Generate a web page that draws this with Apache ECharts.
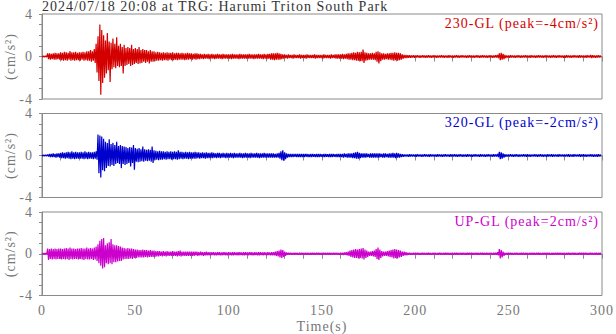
<!DOCTYPE html>
<html lang="en">
<head>
    <meta charset="UTF-8">
    <title>Seismogram TRG</title>
    <script src="https://cdn.jsdelivr.net/npm/echarts@6/dist/echarts.min.js"></script>
    <style>
        html, body { margin: 0; padding: 0; background: #fff; }
        #main { width: 616px; height: 334px; }
        /* the original plot sets its serif text slightly letter-spaced */
        #main svg text { letter-spacing: 1px; }
    </style>
</head>
<body>
<div id="main"></div>
<script>
    // envelope of each trace, one value per second (t = 0..299 s), cm/s^2
    const hi230 = [
        0.05,0.05,0.05,0.3,0.3,0.25,0.3,0.35,0.3,0.3,
        0.4,0.35,0.45,0.4,0.35,0.5,0.4,0.4,0.45,0.35,
        0.4,0.4,0.45,0.4,0.5,0.5,0.6,0.5,0.7,1.2,
        1.9,3.0,2.5,2.0,1.5,2.2,1.4,1.3,1.7,1.2,
        1.8,1.0,1.2,0.9,1.1,0.8,0.9,0.8,1.1,0.7,
        0.8,0.7,0.9,0.6,0.7,0.6,0.6,0.5,0.6,0.5,
        0.5,0.4,0.45,0.4,0.35,0.4,0.35,0.4,0.35,0.35,
        0.4,0.3,0.35,0.35,0.3,0.35,0.3,0.3,0.35,0.3,
        0.3,0.25,0.3,0.3,0.25,0.25,0.2,0.25,0.2,0.25,
        0.2,0.25,0.2,0.2,0.25,0.2,0.2,0.25,0.2,0.2,
        0.2,0.2,0.25,0.2,0.2,0.2,0.25,0.2,0.2,0.2,
        0.2,0.25,0.2,0.2,0.2,0.2,0.25,0.2,0.2,0.25,
        0.2,0.25,0.25,0.3,0.3,0.3,0.35,0.3,0.25,0.2,
        0.2,0.15,0.2,0.15,0.15,0.2,0.15,0.15,0.2,0.15,
        0.15,0.15,0.2,0.15,0.15,0.15,0.2,0.15,0.15,0.15,
        0.15,0.2,0.15,0.15,0.15,0.2,0.15,0.2,0.2,0.2,
        0.2,0.25,0.2,0.25,0.3,0.3,0.35,0.4,0.35,0.45,
        0.4,0.45,0.65,0.4,0.35,0.3,0.3,0.35,0.3,0.45,
        0.5,0.4,0.3,0.3,0.25,0.3,0.3,0.35,0.35,0.4,
        0.35,0.35,0.3,0.2,0.15,0.15,0.12,0.12,0.1,0.12,
        0.1,0.12,0.1,0.1,0.12,0.1,0.1,0.12,0.1,0.1,
        0.12,0.1,0.1,0.1,0.12,0.1,0.1,0.1,0.12,0.1,
        0.1,0.1,0.12,0.1,0.1,0.12,0.1,0.1,0.1,0.12,
        0.1,0.1,0.1,0.12,0.1,0.1,0.12,0.1,0.1,0.1,
        0.12,0.1,0.1,0.12,0.15,0.3,0.35,0.25,0.15,0.1,
        0.1,0.12,0.1,0.1,0.1,0.12,0.1,0.1,0.1,0.12,
        0.1,0.1,0.12,0.1,0.1,0.1,0.12,0.1,0.1,0.1,
        0.12,0.1,0.1,0.1,0.12,0.1,0.1,0.12,0.1,0.1,
        0.1,0.12,0.1,0.1,0.1,0.12,0.1,0.1,0.12,0.1,
        0.1,0.1,0.12,0.1,0.15,0.12,0.1,0.1,0.12,0.1
    ];
    const lo230 = [
        -0.05,-0.05,-0.05,-0.25,-0.3,-0.25,-0.3,-0.3,-0.25,-0.3,
        -0.35,-0.4,-0.35,-0.4,-0.3,-0.4,-0.35,-0.4,-0.35,-0.35,
        -0.4,-0.3,-0.4,-0.35,-0.4,-0.4,-0.5,-0.4,-0.6,-1.5,
        -2.3,-3.6,-2.5,-2.0,-1.6,-1.3,-2.4,-1.2,-1.0,-1.1,
        -0.9,-1.0,-0.9,-1.6,-0.9,-0.8,-0.7,-0.9,-0.8,-0.7,
        -0.6,-0.7,-0.65,-0.6,-0.5,-0.6,-0.5,-0.65,-0.5,-0.5,
        -0.45,-0.4,-0.4,-0.35,-0.4,-0.35,-0.35,-0.4,-0.3,-0.35,
        -0.35,-0.3,-0.35,-0.3,-0.3,-0.3,-0.35,-0.3,-0.3,-0.25,
        -0.3,-0.25,-0.3,-0.25,-0.25,-0.2,-0.25,-0.2,-0.2,-0.25,
        -0.2,-0.2,-0.25,-0.2,-0.2,-0.2,-0.25,-0.2,-0.2,-0.2,
        -0.2,-0.25,-0.2,-0.2,-0.2,-0.25,-0.2,-0.2,-0.2,-0.2,
        -0.2,-0.2,-0.2,-0.25,-0.2,-0.2,-0.2,-0.2,-0.25,-0.2,
        -0.25,-0.2,-0.3,-0.3,-0.35,-0.3,-0.3,-0.3,-0.25,-0.2,
        -0.15,-0.2,-0.15,-0.15,-0.2,-0.15,-0.15,-0.15,-0.2,-0.15,
        -0.15,-0.2,-0.15,-0.15,-0.15,-0.15,-0.2,-0.15,-0.15,-0.15,
        -0.2,-0.15,-0.15,-0.15,-0.2,-0.15,-0.15,-0.2,-0.2,-0.2,
        -0.2,-0.25,-0.2,-0.25,-0.3,-0.3,-0.35,-0.35,-0.4,-0.4,
        -0.45,-0.45,-0.6,-0.4,-0.35,-0.3,-0.3,-0.3,-0.35,-0.5,
        -0.65,-0.45,-0.3,-0.3,-0.25,-0.3,-0.3,-0.35,-0.4,-0.35,
        -0.4,-0.35,-0.3,-0.2,-0.15,-0.15,-0.12,-0.12,-0.1,-0.12,
        -0.1,-0.1,-0.12,-0.1,-0.1,-0.12,-0.1,-0.1,-0.12,-0.1,
        -0.1,-0.12,-0.1,-0.1,-0.1,-0.12,-0.1,-0.12,-0.1,-0.1,
        -0.12,-0.1,-0.1,-0.12,-0.1,-0.1,-0.1,-0.12,-0.1,-0.1,
        -0.1,-0.12,-0.1,-0.1,-0.12,-0.1,-0.1,-0.1,-0.12,-0.1,
        -0.1,-0.12,-0.1,-0.1,-0.15,-0.35,-0.3,-0.25,-0.15,-0.1,
        -0.12,-0.1,-0.1,-0.12,-0.1,-0.1,-0.12,-0.1,-0.1,-0.1,
        -0.1,-0.12,-0.1,-0.1,-0.12,-0.1,-0.1,-0.1,-0.12,-0.1,
        -0.1,-0.1,-0.12,-0.1,-0.1,-0.12,-0.1,-0.1,-0.1,-0.12,
        -0.12,-0.1,-0.1,-0.12,-0.1,-0.1,-0.1,-0.12,-0.1,-0.1,
        -0.1,-0.12,-0.1,-0.1,-0.15,-0.1,-0.12,-0.1,-0.1,-0.1
    ];
    const hi320 = [
        0.05,0.05,0.05,0.1,0.15,0.15,0.2,0.15,0.2,0.2,
        0.25,0.3,0.25,0.3,0.35,0.3,0.4,0.3,0.35,0.3,
        0.3,0.35,0.3,0.4,0.3,0.35,0.3,0.3,0.35,0.4,
        2.0,1.9,1.8,1.6,1.3,1.2,1.55,1.1,1.2,1.0,
        1.3,0.9,1.0,0.9,0.85,0.8,0.7,0.8,0.75,1.0,
        0.7,0.65,0.7,0.6,0.85,0.6,0.55,0.6,0.55,0.85,
        0.5,0.45,0.4,0.45,0.4,0.4,0.35,0.4,0.35,0.4,
        0.35,0.4,0.35,0.5,0.35,0.35,0.3,0.35,0.3,0.35,
        0.3,0.3,0.35,0.3,0.3,0.25,0.3,0.25,0.3,0.25,
        0.25,0.3,0.25,0.2,0.25,0.25,0.2,0.25,0.2,0.25,
        0.2,0.25,0.2,0.25,0.2,0.2,0.25,0.2,0.2,0.25,
        0.2,0.2,0.25,0.2,0.2,0.25,0.2,0.2,0.2,0.25,
        0.2,0.2,0.2,0.2,0.2,0.15,0.2,0.25,0.4,0.5,
        0.3,0.2,0.15,0.15,0.15,0.15,0.15,0.15,0.15,0.15,
        0.15,0.15,0.15,0.12,0.15,0.15,0.12,0.15,0.15,0.15,
        0.12,0.15,0.15,0.12,0.15,0.15,0.15,0.12,0.15,0.15,
        0.15,0.15,0.2,0.15,0.2,0.2,0.2,0.25,0.3,0.35,
        0.25,0.2,0.2,0.2,0.2,0.15,0.2,0.2,0.2,0.2,
        0.2,0.2,0.15,0.2,0.2,0.15,0.2,0.2,0.25,0.2,
        0.25,0.2,0.15,0.12,0.1,0.1,0.1,0.12,0.1,0.1,
        0.1,0.12,0.1,0.1,0.1,0.12,0.1,0.1,0.12,0.1,
        0.1,0.1,0.12,0.1,0.1,0.1,0.12,0.1,0.1,0.12,
        0.1,0.12,0.1,0.1,0.12,0.1,0.1,0.1,0.12,0.1,
        0.1,0.1,0.12,0.1,0.1,0.12,0.1,0.1,0.1,0.12,
        0.1,0.1,0.12,0.1,0.15,0.35,0.3,0.2,0.12,0.1,
        0.1,0.12,0.1,0.1,0.12,0.1,0.1,0.1,0.12,0.1,
        0.12,0.1,0.1,0.1,0.12,0.1,0.1,0.12,0.1,0.1,
        0.1,0.12,0.1,0.12,0.1,0.1,0.1,0.12,0.1,0.1,
        0.1,0.1,0.12,0.1,0.1,0.12,0.1,0.1,0.12,0.1,
        0.12,0.1,0.1,0.1,0.12,0.1,0.1,0.1,0.12,0.1
    ];
    const lo320 = [
        -0.05,-0.05,-0.05,-0.1,-0.15,-0.15,-0.15,-0.2,-0.15,-0.2,
        -0.25,-0.25,-0.3,-0.25,-0.3,-0.35,-0.3,-0.35,-0.3,-0.3,
        -0.3,-0.3,-0.35,-0.3,-0.35,-0.3,-0.3,-0.35,-0.3,-0.4,
        -1.7,-2.1,-1.4,-1.5,-1.2,-1.0,-1.05,-0.9,-1.0,-0.8,
        -0.7,-0.8,-1.2,-0.8,-0.9,-0.8,-0.7,-1.05,-0.7,-1.35,
        -0.6,-0.65,-0.6,-0.55,-0.6,-0.5,-0.55,-0.5,-0.6,-0.7,
        -0.45,-0.4,-0.45,-0.4,-0.4,-0.35,-0.4,-0.35,-0.35,-0.4,
        -0.35,-0.35,-0.4,-0.35,-0.3,-0.35,-0.3,-0.3,-0.35,-0.3,
        -0.3,-0.3,-0.3,-0.25,-0.3,-0.25,-0.25,-0.3,-0.25,-0.25,
        -0.25,-0.25,-0.2,-0.25,-0.2,-0.25,-0.2,-0.2,-0.25,-0.2,
        -0.2,-0.2,-0.25,-0.2,-0.2,-0.2,-0.2,-0.25,-0.2,-0.2,
        -0.2,-0.25,-0.2,-0.2,-0.2,-0.2,-0.25,-0.2,-0.2,-0.2,
        -0.2,-0.2,-0.2,-0.2,-0.2,-0.2,-0.2,-0.3,-0.45,-0.5,
        -0.35,-0.2,-0.15,-0.15,-0.15,-0.12,-0.15,-0.15,-0.15,-0.15,
        -0.15,-0.12,-0.15,-0.15,-0.15,-0.12,-0.15,-0.15,-0.15,-0.12,
        -0.15,-0.15,-0.12,-0.15,-0.15,-0.15,-0.12,-0.15,-0.15,-0.15,
        -0.15,-0.2,-0.15,-0.2,-0.2,-0.2,-0.25,-0.25,-0.3,-0.3,
        -0.25,-0.2,-0.2,-0.2,-0.15,-0.2,-0.2,-0.2,-0.2,-0.2,
        -0.2,-0.15,-0.2,-0.2,-0.15,-0.2,-0.2,-0.2,-0.2,-0.25,
        -0.2,-0.2,-0.15,-0.12,-0.1,-0.1,-0.12,-0.1,-0.1,-0.1,
        -0.12,-0.1,-0.1,-0.12,-0.1,-0.1,-0.1,-0.12,-0.1,-0.1,
        -0.1,-0.12,-0.1,-0.1,-0.12,-0.1,-0.1,-0.1,-0.12,-0.1,
        -0.1,-0.1,-0.12,-0.1,-0.1,-0.12,-0.1,-0.12,-0.1,-0.1,
        -0.12,-0.1,-0.1,-0.1,-0.12,-0.1,-0.1,-0.12,-0.1,-0.1,
        -0.1,-0.12,-0.1,-0.1,-0.15,-0.35,-0.3,-0.2,-0.12,-0.1,
        -0.1,-0.1,-0.12,-0.1,-0.1,-0.12,-0.1,-0.1,-0.1,-0.12,
        -0.1,-0.12,-0.1,-0.1,-0.1,-0.12,-0.1,-0.1,-0.12,-0.1,
        -0.12,-0.1,-0.1,-0.12,-0.1,-0.1,-0.12,-0.1,-0.1,-0.1,
        -0.1,-0.1,-0.12,-0.1,-0.12,-0.1,-0.1,-0.1,-0.12,-0.1,
        -0.1,-0.12,-0.1,-0.1,-0.1,-0.12,-0.1,-0.12,-0.1,-0.1
    ];
    const hiUp = [
        0.05,0.05,0.05,0.5,0.45,0.5,0.45,0.5,0.45,0.5,
        0.5,0.45,0.5,0.55,0.5,0.6,0.5,0.5,0.45,0.5,
        0.5,0.55,0.5,0.5,0.6,0.5,0.55,0.5,0.6,0.7,
        0.9,1.25,1.4,1.5,0.8,1.0,1.1,1.4,0.9,0.8,
        0.8,0.75,0.7,0.6,0.55,0.5,0.55,0.5,0.5,0.45,
        0.4,0.4,0.35,0.35,0.4,0.35,0.35,0.3,0.35,0.3,
        0.3,0.25,0.25,0.25,0.2,0.25,0.2,0.25,0.2,0.2,
        0.25,0.2,0.2,0.25,0.3,0.2,0.2,0.2,0.2,0.2,
        0.2,0.2,0.2,0.2,0.15,0.2,0.15,0.15,0.2,0.15,
        0.15,0.15,0.15,0.12,0.15,0.15,0.12,0.15,0.15,0.12,
        0.15,0.12,0.15,0.15,0.12,0.15,0.15,0.12,0.15,0.15,
        0.12,0.15,0.15,0.12,0.15,0.12,0.15,0.15,0.12,0.15,
        0.12,0.15,0.12,0.15,0.15,0.2,0.25,0.3,0.4,0.35,
        0.2,0.12,0.1,0.1,0.08,0.1,0.1,0.08,0.1,0.1,
        0.08,0.1,0.1,0.08,0.1,0.1,0.08,0.1,0.1,0.08,
        0.1,0.1,0.08,0.1,0.1,0.08,0.1,0.1,0.1,0.08,
        0.1,0.1,0.12,0.15,0.2,0.3,0.35,0.4,0.45,0.4,
        0.45,0.5,0.55,0.4,0.3,0.2,0.2,0.25,0.3,0.45,
        0.6,0.4,0.25,0.2,0.2,0.25,0.3,0.35,0.4,0.45,
        0.4,0.35,0.3,0.2,0.2,0.15,0.1,0.1,0.08,0.1,
        0.08,0.1,0.08,0.08,0.1,0.08,0.08,0.1,0.08,0.08,
        0.1,0.08,0.08,0.1,0.08,0.08,0.08,0.1,0.08,0.08,
        0.08,0.1,0.08,0.08,0.1,0.08,0.1,0.08,0.08,0.1,
        0.08,0.08,0.1,0.08,0.08,0.1,0.08,0.08,0.1,0.08,
        0.1,0.08,0.1,0.1,0.15,0.45,0.35,0.2,0.1,0.08,
        0.08,0.1,0.08,0.08,0.1,0.08,0.08,0.08,0.1,0.08,
        0.08,0.08,0.1,0.08,0.08,0.1,0.08,0.08,0.08,0.1,
        0.08,0.1,0.08,0.08,0.08,0.1,0.08,0.08,0.1,0.08,
        0.08,0.08,0.1,0.08,0.1,0.08,0.08,0.08,0.1,0.08,
        0.08,0.1,0.08,0.08,0.1,0.08,0.08,0.1,0.08,0.08
    ];
    const loUp = [
        -0.05,-0.05,-0.05,-0.6,-0.5,-0.55,-0.5,-0.55,-0.5,-0.5,
        -0.55,-0.5,-0.55,-0.5,-0.6,-0.5,-0.55,-0.5,-0.5,-0.55,
        -0.5,-0.55,-0.6,-0.5,-0.55,-0.55,-0.5,-0.6,-0.55,-0.7,
        -0.9,-1.15,-1.4,-1.3,-0.9,-1.0,-0.9,-1.0,-0.8,-0.8,
        -0.75,-0.7,-0.7,-0.55,-0.5,-0.5,-0.5,-0.45,-0.5,-0.4,
        -0.4,-0.35,-0.35,-0.35,-0.35,-0.3,-0.35,-0.3,-0.3,-0.3,
        -0.3,-0.25,-0.25,-0.2,-0.25,-0.2,-0.25,-0.2,-0.2,-0.2,
        -0.2,-0.2,-0.25,-0.2,-0.25,-0.2,-0.2,-0.2,-0.2,-0.2,
        -0.2,-0.2,-0.15,-0.2,-0.15,-0.15,-0.2,-0.15,-0.15,-0.15,
        -0.15,-0.12,-0.15,-0.15,-0.12,-0.15,-0.15,-0.12,-0.15,-0.15,
        -0.12,-0.15,-0.15,-0.12,-0.15,-0.15,-0.12,-0.15,-0.15,-0.12,
        -0.15,-0.12,-0.15,-0.15,-0.12,-0.15,-0.15,-0.12,-0.15,-0.12,
        -0.15,-0.12,-0.15,-0.15,-0.15,-0.2,-0.25,-0.35,-0.4,-0.3,
        -0.2,-0.1,-0.1,-0.08,-0.1,-0.1,-0.08,-0.1,-0.1,-0.08,
        -0.1,-0.1,-0.08,-0.1,-0.1,-0.08,-0.1,-0.1,-0.08,-0.1,
        -0.1,-0.08,-0.1,-0.1,-0.08,-0.1,-0.1,-0.08,-0.1,-0.1,
        -0.1,-0.12,-0.1,-0.15,-0.2,-0.3,-0.35,-0.4,-0.4,-0.45,
        -0.4,-0.45,-0.55,-0.4,-0.3,-0.2,-0.2,-0.25,-0.3,-0.5,
        -0.6,-0.4,-0.25,-0.2,-0.2,-0.25,-0.3,-0.35,-0.45,-0.4,
        -0.45,-0.35,-0.3,-0.2,-0.15,-0.15,-0.1,-0.1,-0.1,-0.08,
        -0.08,-0.08,-0.1,-0.08,-0.08,-0.1,-0.08,-0.08,-0.1,-0.08,
        -0.08,-0.1,-0.08,-0.08,-0.1,-0.08,-0.08,-0.08,-0.1,-0.08,
        -0.1,-0.08,-0.08,-0.1,-0.08,-0.08,-0.1,-0.08,-0.08,-0.08,
        -0.08,-0.1,-0.08,-0.08,-0.1,-0.08,-0.08,-0.1,-0.08,-0.1,
        -0.08,-0.1,-0.1,-0.1,-0.15,-0.45,-0.35,-0.2,-0.1,-0.08,
        -0.08,-0.08,-0.1,-0.08,-0.08,-0.1,-0.08,-0.08,-0.1,-0.08,
        -0.1,-0.08,-0.08,-0.08,-0.1,-0.08,-0.08,-0.1,-0.08,-0.08,
        -0.08,-0.08,-0.1,-0.08,-0.1,-0.08,-0.08,-0.08,-0.1,-0.08,
        -0.1,-0.08,-0.08,-0.1,-0.08,-0.08,-0.1,-0.08,-0.08,-0.08,
        -0.08,-0.08,-0.1,-0.08,-0.08,-0.1,-0.08,-0.1,-0.08,-0.08
    ];

    const channels = ['230-GL', '320-GL', 'UP-GL'];
    const peaks = [-4, -2, 2];
    const colors = ['#d40000', '#0000cc', '#cc00cc'];
    const yTicks = [-4, 0, 4];
    const xTicks = [0, 50, 100, 150, 200, 250, 300];
    const titleText = '2024/07/18 20:08 at TRG: Harumi Triton South Park';

    const serif = '"Liberation Serif", "DejaVu Serif", serif';
    const axisGray = '#8a8a8a';
    const labelGray = '#777';

    // positive peak at t, negative peak half a second later
    function trace(hi, lo) {
        const pts = [];
        for (let i = 0; i < hi.length; i++) {
            pts.push([i, hi[i]]);
            pts.push([i + 0.5, lo[i]]);
        }
        return pts;
    }

    const traces = [trace(hi230, lo230), trace(hi320, lo320), trace(hiUp, loUp)];
    const tops = [14, 113.5, 212];
    const heights = [85, 84, 83.5];

    const grid = [], xAxis = [], yAxis = [], series = [], graphic = [];
    for (let i = 0; i < 3; i++) {
        grid.push({
            left: 42, width: 560, top: tops[i], height: heights[i],
            containLabel: false, outerBoundsMode: 'none',
            show: true, borderColor: axisGray, borderWidth: 1, backgroundColor: 'transparent'
        });
        xAxis.push({
            gridIndex: i, type: 'value',
            min: xTicks[0], max: xTicks[xTicks.length - 1], interval: 50,
            axisLine: { lineStyle: { color: axisGray } },
            axisTick: { show: true, inside: false, length: 5, lineStyle: { color: axisGray } },
            minorTick: { show: true, splitNumber: 5, length: 5, lineStyle: { color: axisGray } },
            splitLine: { show: false },
            axisLabel: {
                show: i === 2, margin: 8,
                color: labelGray, fontFamily: serif, fontSize: 14
            },
            name: i === 2 ? 'Time(s)' : '',
            nameLocation: 'middle', nameGap: 24,
            nameTextStyle: { color: labelGray, fontFamily: serif, fontSize: 14 }
        });
        yAxis.push({
            gridIndex: i, type: 'value',
            min: yTicks[0], max: yTicks[2], interval: 4,
            axisLine: { show: true, lineStyle: { color: axisGray } },
            axisTick: { show: true, inside: false, length: 3, lineStyle: { color: axisGray } },
            minorTick: { show: true, splitNumber: 4, length: 3, lineStyle: { color: axisGray } },
            splitLine: { show: false },
            axisLabel: { margin: 9, color: labelGray, fontFamily: serif, fontSize: 14 },
            name: '(cm/s²)',
            nameLocation: 'middle', nameRotate: 90, nameGap: 25,
            nameMoveOverlap: false,
            nameTextStyle: { color: labelGray, fontFamily: serif, fontSize: 14 }
        });
        series.push({
            type: 'line',
            xAxisIndex: i, yAxisIndex: i,
            data: traces[i],
            showSymbol: false,
            sampling: null,
            lineStyle: { color: colors[i], width: 1.2 },
            itemStyle: { color: colors[i] },
            silent: true
        });
        graphic.push({
            type: 'text', x: 599, y: tops[i] + 2,
            style: {
                text: channels[i] + ' (peak=' + peaks[i] + 'cm/s²)',
                align: 'right', verticalAlign: 'top',
                fill: colors[i], fontFamily: serif, fontSize: 14
            }
        });
    }
    graphic.push({
        type: 'text', x: 42, y: -1,
        style: {
            text: titleText, align: 'left', verticalAlign: 'top',
            fill: '#333', fontFamily: serif, fontSize: 14
        }
    });

    const myChart = echarts.init(document.getElementById('main'), null, { renderer: 'svg' });
    myChart.setOption({
        animation: false,
        backgroundColor: '#fff',
        grid: grid,
        xAxis: xAxis,
        yAxis: yAxis,
        series: series,
        graphic: graphic
    });
</script>
</body>
</html>
